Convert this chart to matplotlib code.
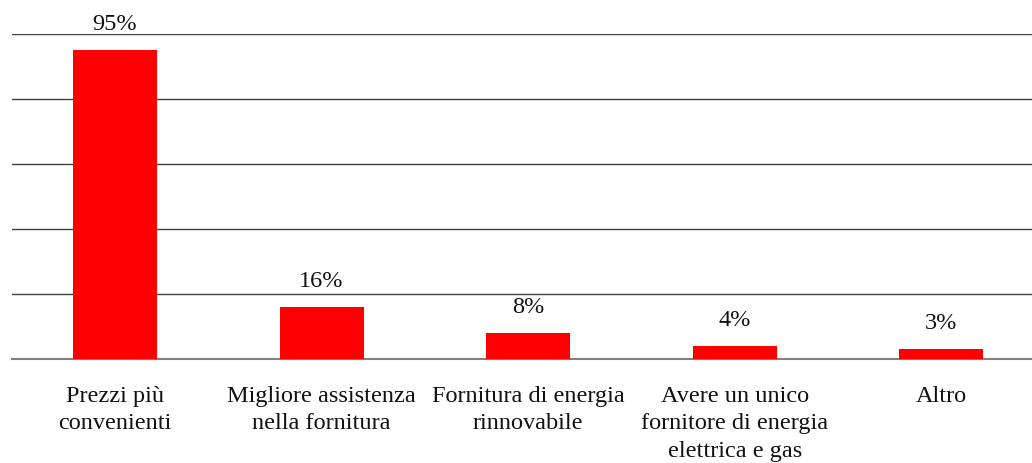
import matplotlib.pyplot as plt

plt.rcParams['font.family'] = ['Liberation Serif', 'DejaVu Serif']

categories = ['Prezzi più\nconvenienti', 'Migliore assistenza\nnella fornitura',
              'Fornitura di energia\nrinnovabile',
              'Avere un unico\nfornitore di energia\nelettrica e gas', 'Altro']
values = [95, 16, 8, 4, 3]

fig = plt.figure(figsize=(10.32, 4.64), dpi=100)
# axes spill past the right edge, as in the original
ax = fig.add_axes([11.7 / 1032, 104 / 464, 1033 / 1032, 325 / 464])

x = range(len(values))
ax.bar(x, values, width=0.406, color='#ff0000', zorder=3)
for i, v in zip(x, values):
    ax.annotate(f'{v}%', (i, v), xytext=(0, 19), textcoords='offset points',
                ha='center', va='center', fontsize=17.5, color='#111111')

ax.set_xlim(-0.5, len(values) - 0.5)
ax.set_ylim(0, 100)
ax.set_yticks([20, 40, 60, 80, 100])
ax.yaxis.grid(True, color='#404040', linewidth=1.0, zorder=0)
ax.set_yticklabels([])
ax.tick_params(axis='y', length=0)
ax.tick_params(axis='x', length=0, pad=19)
ax.set_xticks(list(x))
ax.set_xticklabels(categories, fontsize=17.5, color='#111111', linespacing=1.38, va='top')
for s in ['top', 'right', 'left']:
    ax.spines[s].set_visible(False)
ax.spines['bottom'].set_color('#808080')
ax.spines['bottom'].set_linewidth(1.5)

fig.savefig('out.png', dpi=100)
